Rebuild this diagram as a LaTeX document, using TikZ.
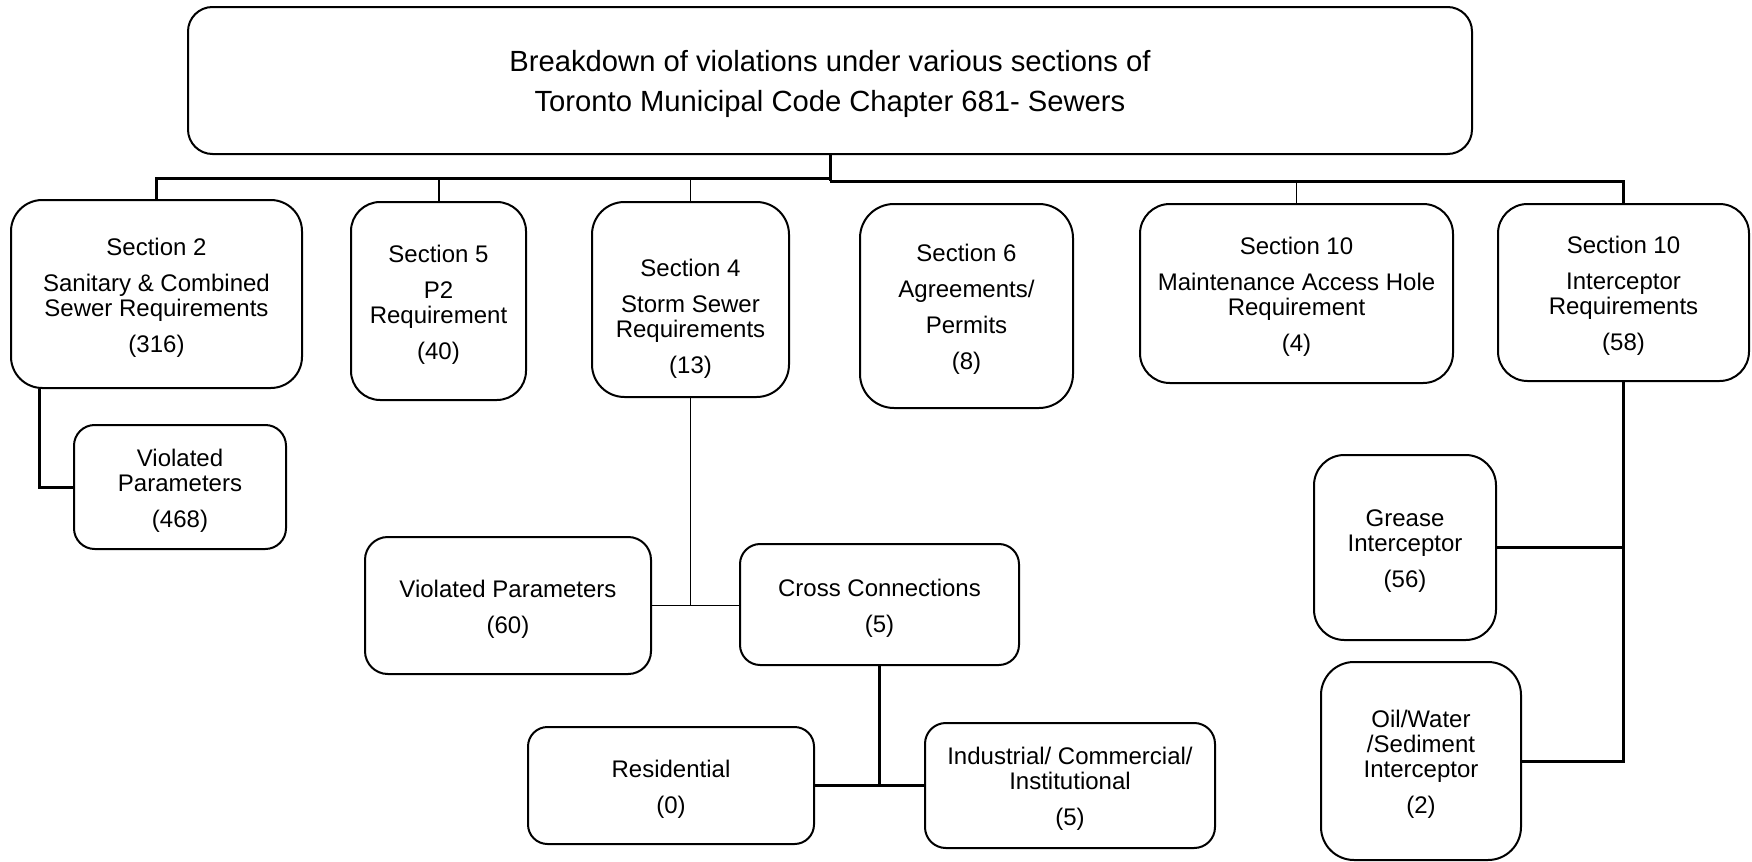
\documentclass[tikz,border=0pt]{standalone}
\usepackage{fontspec}
\setmainfont{Liberation Sans}
\newcommand{\boxnode}[7][]{%
  \pgfmathsetmacro{\myBW}{(#5-#3)*0.5}%
  \pgfmathsetmacro{\myBH}{(#6-#4)*0.5}%
  \pgfmathsetmacro{\myBR}{min(\myBW,\myBH)/6}%
  \node[box, minimum width=\myBW pt, minimum height=\myBH pt, rounded corners=\myBR pt] (#2) at ({(#3+#5)/2},{(#4+#6)/2}) {};%
  \node[plain, #1] (#2t) at ([yshift=-1.7pt]#2.center) {#7};%
}
\begin{document}
\begin{tikzpicture}[x=0.5pt,y=-0.5pt,
  box/.style={draw, line width=1pt, inner sep=0pt},
  plain/.style={inner sep=0pt, align=center, font=\fontsize{12}{12.5}\selectfont},
  titlefont/.style={font=\fontsize{14.6}{20}\selectfont},
  thickline/.style={line width=1.5pt},
  thinline/.style={line width=0.6pt}]
\useasboundingbox[fill=white] (0,0) rectangle (1752,862);

\boxnode[titlefont]{title}{188}{7}{1472}{154}{Breakdown of violations under various sections of\\ Toronto Municipal Code Chapter 681- Sewers}

\boxnode{s2}{11}{200}{302}{388}{Section 2\\[5.5pt]Sanitary \& Combined\\Sewer Requirements\\[5.5pt](316)}
\boxnode{s5}{351}{202}{526}{400}{Section 5\\[5.5pt]P2\\Requirement\\[5.5pt](40)}
\boxnode{s4}{592}{202}{789}{397}{}
\node[plain] (s4x) at (690.5,318.5) {Section 4\\[5.5pt]Storm Sewer\\Requirements\\[5.5pt](13)};
\boxnode{s6}{860}{204}{1073}{408}{Section 6\\[5.5pt]Agreements/\\[5.5pt]Permits\\[5.5pt](8)}
\boxnode{s10a}{1140}{204}{1453}{383}{Section 10\\[5.5pt]Maintenance Access Hole\\Requirement\\[5.5pt](4)}
\boxnode{s10b}{1498}{204}{1749}{381}{Section 10\\[5.5pt]Interceptor\\Requirements\\[5.5pt](58)}
\boxnode{vp1}{74}{425}{286}{549}{Violated\\Parameters\\[5.5pt](468)}
\boxnode{vp2}{365}{537}{651}{674}{Violated Parameters\\[5.5pt](60)}
\boxnode{cc}{740}{544}{1019}{665}{Cross Connections\\[5.5pt](5)}
\boxnode{res}{528}{727}{814}{844}{Residential\\[5.5pt](0)}
\boxnode{ind}{925}{723}{1215}{848}{Industrial/ Commercial/\\Institutional\\[5.5pt](5)}
\boxnode{gr}{1314}{455}{1496}{640}{Grease\\Interceptor\\[5.5pt](56)}
\boxnode{oil}{1321}{662}{1521}{860}{Oil/Water\\/Sediment\\Interceptor\\[5.5pt](2)}

\coordinate (busL) at (0,178);
\coordinate (busR) at (0,181);
\coordinate (s2d) at ([xshift=14.5pt]s2.south west);

\draw[thickline] (title.south) -- (title.south |- busR);
\draw[thickline] (s2.north) -- (s2.north |- busL) -- (title.south |- busL);
\draw[thickline] (title.south |- busR) -- (s10b.north |- busR) -- (s10b.north);
\draw[line width=1pt] (s5.north) -- (s5.north |- busL);
\draw[thinline] (s4.north) -- (s4.north |- busL);
\draw[thinline] (s10a.north) -- (s10a.north |- busR);
\draw[thickline] (s2d) -- (s2d |- vp1.west) -- (vp1.west);
\draw[thinline] (s4.south) -- (s4.south |- vp2.east);
\draw[thinline] (vp2.east) -- (vp2.east -| cc.west);
\draw[thickline] (cc.south) -- (cc.south |- res.east);
\draw[thickline] (res.east) -- (res.east -| ind.west);
\draw[thickline] (s10b.south) -- (s10b.south |- oil.east) -- (oil.east);
\draw[thickline] (gr.east) -- (gr.east -| s10b.south);
\end{tikzpicture}
\end{document}
